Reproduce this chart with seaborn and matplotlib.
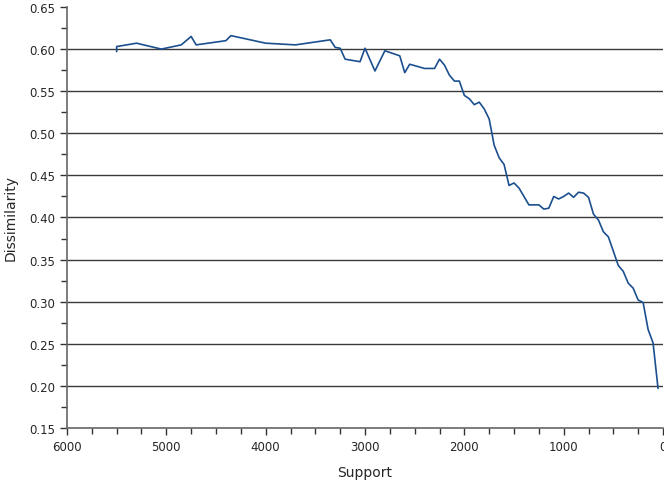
import matplotlib
matplotlib.use("Agg")
import matplotlib.pyplot as plt
from matplotlib.ticker import MultipleLocator, FormatStrFormatter
import seaborn as sns
import pandas as pd

support = [5500, 5500, 5300, 5050, 4850, 4750, 4700, 4400, 4350, 4000,
           3700, 3350, 3300, 3250, 3200, 3050, 3000, 2900, 2800, 2650,
           2600, 2550, 2400, 2300, 2250, 2200, 2150, 2100, 2050, 2000,
           1950, 1900, 1850, 1800, 1750, 1700, 1650, 1600, 1550, 1500,
           1450, 1350, 1250, 1200, 1150, 1100, 1050, 1000, 950, 900,
           850, 800, 750, 700, 650, 600, 550, 450, 400, 350,
           300, 250, 200, 150, 100, 50]
dissimilarity = [0.597, 0.603, 0.607, 0.600, 0.605, 0.615, 0.605, 0.610, 0.616, 0.607,
                 0.605, 0.611, 0.602, 0.601, 0.588, 0.585, 0.601, 0.574, 0.598, 0.592,
                 0.572, 0.582, 0.577, 0.577, 0.588, 0.581, 0.569, 0.562, 0.562, 0.545,
                 0.541, 0.534, 0.537, 0.529, 0.517, 0.486, 0.471, 0.463, 0.438, 0.441,
                 0.435, 0.415, 0.415, 0.410, 0.411, 0.425, 0.422, 0.425, 0.429, 0.424,
                 0.430, 0.429, 0.424, 0.404, 0.397, 0.383, 0.377, 0.343, 0.336, 0.322,
                 0.316, 0.302, 0.299, 0.267, 0.251, 0.197]

df = pd.DataFrame({"Support": support, "Dissimilarity": dissimilarity})

sns.set_style("white")
plt.rcParams["font.family"] = ["DejaVu Sans"]

fig = plt.figure(figsize=(6.64, 4.81), dpi=100)
ax = fig.add_axes([0.1009, 0.1081, 0.8976, 0.8753])

sns.lineplot(data=df, x="Support", y="Dissimilarity", sort=False, estimator=None,
             color="#1b4f8e", linewidth=1.2, ax=ax)

ax.set_xlim(6000, 0)
ax.set_ylim(0.15, 0.65)
ax.xaxis.set_major_locator(MultipleLocator(1000))
ax.xaxis.set_minor_locator(MultipleLocator(250))
ax.yaxis.set_major_locator(MultipleLocator(0.05))
ax.yaxis.set_minor_locator(MultipleLocator(0.025))
ax.yaxis.set_major_formatter(FormatStrFormatter("%.2f"))

# horizontal reference lines at each major y tick except the limits
for yv in [0.20, 0.25, 0.30, 0.35, 0.40, 0.45, 0.50, 0.55, 0.60]:
    ax.axhline(yv, color="#3a3a3a", linewidth=1.0, zorder=0)

for side in ["top", "right"]:
    ax.spines[side].set_visible(False)
for side in ["left", "bottom"]:
    ax.spines[side].set_color("#666666")
    ax.spines[side].set_linewidth(1.2)

ax.tick_params(which="major", direction="out", length=5, width=1, color="#333333",
               labelsize=8.5, bottom=True, left=True)
ax.tick_params(which="minor", direction="out", length=4, width=1, color="#333333",
               bottom=True, left=True)

ax.set_xlabel("Support", fontsize=10, labelpad=9)
ax.set_ylabel("Dissimilarity", fontsize=10, labelpad=8)

fig.savefig("out.png", dpi=100)
